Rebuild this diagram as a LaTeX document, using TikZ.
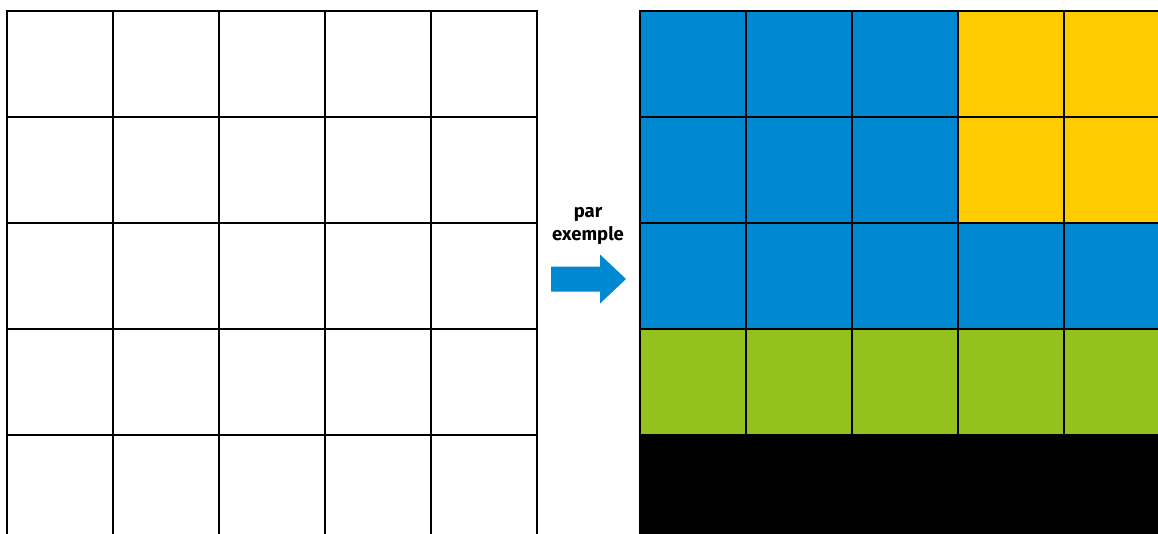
\documentclass[tikz,border=0pt]{standalone}
\usepackage{fontspec}
\setmainfont{Fira Sans}
\definecolor{cblue}{HTML}{0089D2}
\definecolor{cyellow}{HTML}{FFCC00}
\definecolor{cgreen}{HTML}{95C11F}
\definecolor{cblack}{HTML}{000000}
\tikzset{
  cell/.style={draw=black, line width=2pt, minimum size=106pt, inner sep=0pt, anchor=north west, outer sep=0pt},
  lbl/.style={font=\fontsize{18.5}{23.5}\selectfont\bfseries, align=center, inner sep=0pt}
}
\begin{document}
\begin{tikzpicture}[x=1pt,y=-1pt]
\useasboundingbox (0,0) rectangle (1158,533);
\clip (0,0) rectangle (1158,533);
% left grid
\foreach \r in {0,...,4}{
  \foreach \c in {0,...,4}{
    \node[cell, fill=white] (L-\r-\c) at ({7+106*\c},{10.5+106*\r}) {};
  }
}
% right grid
\foreach \r/\cols in {0/{cblue,cblue,cblue,cyellow,cyellow},1/{cblue,cblue,cblue,cyellow,cyellow},2/{cblue,cblue,cblue,cblue,cblue},3/{cgreen,cgreen,cgreen,cgreen,cgreen},4/{cblack,cblack,cblack,cblack,cblack}}{
  \foreach \col [count=\ci from 0] in \cols {
    \node[cell, fill=\col] (R-\r-\ci) at ({640+106*\ci},{10.5+106*\r}) {};
  }
}
% label
\node[lbl] (txt) at (588,226) {par\\exemple};
% arrow
\fill[cblue] (551,266.5) -- (600,266.5) -- (600,254.5) -- (626,279) -- (600,303.5) -- (600,291.5) -- (551,291.5) -- cycle;
\end{tikzpicture}
\end{document}
